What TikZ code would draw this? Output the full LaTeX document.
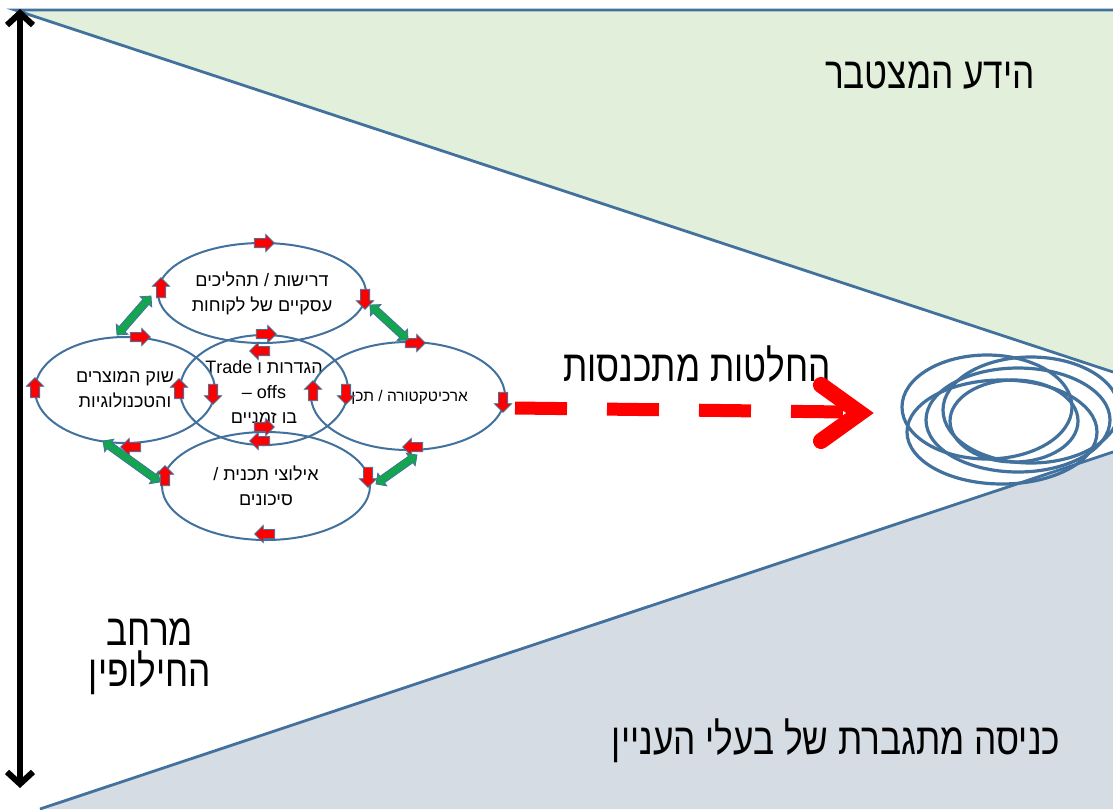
\documentclass[tikz,border=0pt]{standalone}
\usepackage{fontspec}
\setmainfont{Liberation Sans}
\newfontfamily\hebfont[Script=Hebrew]{Liberation Sans}
\newfontfamily\hebbig[Script=Hebrew,FakeStretch=0.8]{Liberation Sans}
\TeXXeTstate=1
\usetikzlibrary{shapes.arrows,shapes.geometric,calc,arrows.meta}
\definecolor{bline}{RGB}{65,113,156}
\definecolor{gfill}{RGB}{226,239,218}
\definecolor{sfill}{RGB}{214,220,228}
\definecolor{garr}{RGB}{20,165,80}
\newcommand{\heb}[1]{{\beginR #1\endR}}
\tikzset{
  ell/.style={ellipse, draw=bline, line width=2pt, inner sep=0pt, align=center,
    font=\hebfont\fontsize{18}{25}\selectfont},
  etxt/.style={inner sep=0pt, align=center, font=\hebfont\fontsize{15.5}{25}\selectfont},
  rar/.style={single arrow, draw=bline, fill=red, line width=0.8pt, inner sep=4.2pt,
    single arrow head extend=4pt, minimum height=20pt},
  dar/.style={double arrow, draw=bline, fill=garr, line width=0.8pt, inner sep=3.5pt,
    double arrow head extend=3.8pt},
  bigtxt/.style={font=\hebbig\fontsize{44}{50}\selectfont, align=center, inner sep=0pt},
  edge/.style={bline, line width=2.8pt},
  cluster/.style={bline, line width=3.2pt}
}
\begin{document}
\begin{tikzpicture}[x=1pt,y=-1pt]
\clip (0,0) rectangle (1113,809);
\fill[white] (0,0) rectangle (1113,809);
% regions
\fill[gfill] (15,10) -- (1113,10) -- (1113,372) -- cycle;
\fill[sfill] (40,809) -- (1113,452) -- (1113,809) -- cycle;
\draw[edge] (1113,10) -- (15,10) -- (1113,372);
\draw[edge] (40,809) -- (1113,452);
% vertical double arrow
\coordinate (vt) at (20,9);
\coordinate (vb) at (20,788);
\draw[line width=6pt, {Straight Barb[length=12pt,width=26pt,line width=6pt]}-{Straight Barb[length=12pt,width=26pt,line width=6pt]}] (vt) -- (vb);
% big labels
\node[bigtxt] (know) at (930,75) {\heb{הידע המצטבר}};
\node[bigtxt] (conv) at (697,364) {\heb{החלטות מתכנסות}};
\node[bigtxt] (stake) at (836,741) {\heb{כניסה מתגברת של בעלי העניין}};
\node[bigtxt] (space1) at (150,632) {\heb{מרחב}};
\node[bigtxt] (space2) at (150,673) {\heb{החילופין}};
% ellipses
\node[ell, minimum width=208pt, minimum height=100pt] (T) at (262,293) {\heb{דרישות / תהליכים}\\\heb{עסקיים של לקוחות}};
\node[ell, minimum width=168pt, minimum height=110pt] (M) at (264,390) {};
\node[etxt, font=\hebfont\fontsize{18}{25}\selectfont] (Mt) at (264,392) {\heb{הגדרות ו \beginL Trade\endL}\\ – offs\\\heb{בו זמניים}};
\node[ell, minimum width=180pt, minimum height=106pt] (L) at (125,390) {\heb{שוק המוצרים}\\\heb{והטכנולוגיות}};
\node[ell, minimum width=194pt, minimum height=108pt] (R) at (408,396) {};
\node[etxt, anchor=east] (Rt) at (468,397) {\heb{ארכיטקטורה / תכן}};
\node[ell, minimum width=208pt, minimum height=108pt] (B) at (266,486) {\heb{אילוצי תכנית /}\\\heb{סיכונים}};
% red small arrows
\node[rar] (a1) at (262,243) {};
\node[rar, rotate=90] (a2) at (161,290) {};
\node[rar, rotate=270] (a3) at (365,297) {};
\node[rar, rotate=180] (a4) at (262,351) {};
\node[rar] (a5) at (264,334) {};
\node[rar, rotate=90] (a6) at (179,391) {};
\node[rar, rotate=270] (a7) at (346,392) {};
\node[rar, rotate=180] (a8) at (262,441) {};
\node[rar] (a9) at (138,337) {};
\node[rar, rotate=90] (a10) at (35,390) {};
\node[rar, rotate=270] (a11) at (213,392) {};
\node[rar, rotate=180] (a12) at (133,447) {};
\node[rar] (a13) at (413,343) {};
\node[rar, rotate=90] (a14) at (313,393) {};
\node[rar, rotate=270] (a15) at (503,400) {};
\node[rar, rotate=180] (a16) at (415,447) {};
\node[rar] (a17) at (262,427) {};
\node[rar, rotate=90] (a18) at (165,478) {};
\node[rar, rotate=270] (a19) at (368,475) {};
\node[rar, rotate=180] (a20) at (267,534) {};
% green double arrows
\coordinate (g1a) at (117,335); \coordinate (g1b) at (151,296);
\coordinate (g2a) at (370,305); \coordinate (g2b) at (408,340);
\coordinate (g3a) at (103,441); \coordinate (g3b) at (160,482);
\coordinate (g4a) at (376,484); \coordinate (g4b) at (417,455);
\foreach \a/\b in {g1a/g1b,g2a/g2b,g3a/g3b,g4a/g4b}{
  \path let \p1=($(\b)-(\a)$), \n1={atan2(\y1,\x1)}, \n2={veclen(\x1,\y1)} in
    node[dar, rotate=\n1, minimum height=\n2] at ($(\a)!0.5!(\b)$) {};
}
% red dashed arrow
\coordinate (ds) at (515,408);
\coordinate (de) at (845,412);
\coordinate (hu) at (821,385);
\coordinate (ht) at (860,413);
\coordinate (hd) at (821,441);
\draw[red, line width=13pt, dash pattern=on 52pt off 40pt] (ds) -- (de);
\draw[red, line width=16pt, line cap=round, line join=miter] (hu) -- (ht) -- (hd);
% converging ellipse cluster
\draw[cluster] (987,407) ellipse [x radius=85pt, y radius=52pt];
\draw[cluster] (1002,432) ellipse [x radius=95pt, y radius=52pt];
\draw[cluster] (1018,420) ellipse [x radius=92pt, y radius=52pt];
\draw[cluster] (1031,410) ellipse [x radius=88pt, y radius=53pt];
\draw[cluster] (1014,421) ellipse [x radius=64pt, y radius=41pt];
\end{tikzpicture}
\end{document}
